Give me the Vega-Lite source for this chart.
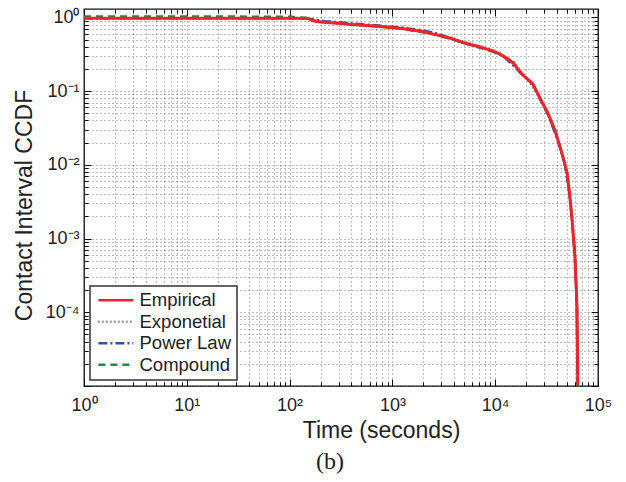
{
  "$schema": "https://vega.github.io/schema/vega-lite/v6.json",
  "width": 514,
  "height": 377,
  "autosize": {"type": "none"},
  "padding": {"left": 84, "top": 9, "right": 28, "bottom": 96},
  "background": "white",
  "config": {
    "font": "Liberation Sans",
    "view": {"stroke": "#111", "strokeWidth": 1.3},
    "axis": {
      "domain": false,
      "grid": false,
      "labelFont": "Liberation Sans",
      "labelFontSize": 18,
      "labelColor": "#222",
      "titleFont": "Liberation Sans",
      "titleFontSize": 23,
      "titleFontWeight": "normal",
      "titleColor": "#222",
      "tickColor": "#111",
      "labelOverlap": false,
      "labelFlush": false,
      "labelBound": false
    },
    "legend": {
      "orient": "bottom-left",
      "offset": 6,
      "strokeColor": "#333",
      "fillColor": "white",
      "strokeWidth": 1.5,
      "padding": 5,
      "symbolType": "M-1,0H5",
      "symbolSize": 136,
      "symbolStrokeWidth": 2.5,
      "labelFont": "Liberation Sans",
      "labelFontSize": 18.5,
      "labelColor": "#222",
      "rowPadding": 2.5,
      "labelOffset": 26,
      "labelLimit": 200
    }
  },
  "title": {
    "text": "(b)",
    "orient": "bottom",
    "anchor": "middle",
    "font": "Liberation Serif",
    "fontSize": 24,
    "fontWeight": "normal",
    "color": "#222",
    "offset": 8,
    "dx": -11
  },
  "data": {
    "values": [
      {"series": "Exponetial", "t": 1, "p": 0.976},
      {"series": "Exponetial", "t": 10, "p": 0.975},
      {"series": "Exponetial", "t": 100, "p": 0.973},
      {"series": "Exponetial", "t": 150, "p": 0.968},
      {"series": "Exponetial", "t": 170, "p": 0.9},
      {"series": "Exponetial", "t": 300, "p": 0.832},
      {"series": "Exponetial", "t": 700, "p": 0.762},
      {"series": "Exponetial", "t": 1200, "p": 0.712},
      {"series": "Exponetial", "t": 2700, "p": 0.59},
      {"series": "Exponetial", "t": 3700, "p": 0.535},
      {"series": "Exponetial", "t": 5000, "p": 0.465},
      {"series": "Exponetial", "t": 7000, "p": 0.41},
      {"series": "Exponetial", "t": 11000, "p": 0.33},
      {"series": "Exponetial", "t": 15000, "p": 0.25},
      {"series": "Exponetial", "t": 20000, "p": 0.155},
      {"series": "Exponetial", "t": 27400, "p": 0.08},
      {"series": "Exponetial", "t": 38000, "p": 0.031},
      {"series": "Exponetial", "t": 47000, "p": 0.011},
      {"series": "Exponetial", "t": 53000, "p": 0.004},
      {"series": "Exponetial", "t": 59700, "p": 0.00057},
      {"series": "Exponetial", "t": 62400, "p": 0.00012},
      {"series": "Exponetial", "t": 63800, "p": 0.000001},
      {"series": "Power Law", "t": 1, "p": 0.975},
      {"series": "Power Law", "t": 10, "p": 0.975},
      {"series": "Power Law", "t": 100, "p": 0.975},
      {"series": "Power Law", "t": 140, "p": 0.975},
      {"series": "Power Law", "t": 180, "p": 0.93},
      {"series": "Power Law", "t": 220, "p": 0.89},
      {"series": "Power Law", "t": 300, "p": 0.86},
      {"series": "Power Law", "t": 500, "p": 0.81},
      {"series": "Power Law", "t": 800, "p": 0.77},
      {"series": "Power Law", "t": 1200, "p": 0.73},
      {"series": "Power Law", "t": 2000, "p": 0.665},
      {"series": "Power Law", "t": 2800, "p": 0.6},
      {"series": "Power Law", "t": 3500, "p": 0.53},
      {"series": "Power Law", "t": 5000, "p": 0.45},
      {"series": "Power Law", "t": 8000, "p": 0.38},
      {"series": "Power Law", "t": 12000, "p": 0.3},
      {"series": "Power Law", "t": 17500, "p": 0.18},
      {"series": "Power Law", "t": 23300, "p": 0.125},
      {"series": "Power Law", "t": 32000, "p": 0.053},
      {"series": "Power Law", "t": 43000, "p": 0.017},
      {"series": "Power Law", "t": 50000, "p": 0.0078},
      {"series": "Power Law", "t": 56000, "p": 0.0018},
      {"series": "Power Law", "t": 59700, "p": 0.00057},
      {"series": "Power Law", "t": 62400, "p": 0.00012},
      {"series": "Power Law", "t": 63800, "p": 0.000001},
      {"series": "Compound", "t": 1, "p": 1.03},
      {"series": "Compound", "t": 10, "p": 1.03},
      {"series": "Compound", "t": 100, "p": 1.02},
      {"series": "Compound", "t": 150, "p": 0.985},
      {"series": "Compound", "t": 170, "p": 0.9},
      {"series": "Compound", "t": 300, "p": 0.83},
      {"series": "Compound", "t": 1200, "p": 0.71},
      {"series": "Compound", "t": 2700, "p": 0.58},
      {"series": "Compound", "t": 5000, "p": 0.45},
      {"series": "Compound", "t": 11000, "p": 0.32},
      {"series": "Compound", "t": 15000, "p": 0.24},
      {"series": "Compound", "t": 17500, "p": 0.18},
      {"series": "Compound", "t": 23300, "p": 0.125},
      {"series": "Compound", "t": 27400, "p": 0.078},
      {"series": "Compound", "t": 38000, "p": 0.03},
      {"series": "Compound", "t": 47000, "p": 0.011},
      {"series": "Compound", "t": 53000, "p": 0.004},
      {"series": "Compound", "t": 59700, "p": 0.00057},
      {"series": "Compound", "t": 62400, "p": 0.00012},
      {"series": "Compound", "t": 63800, "p": 0.000001},
      {"series": "Empirical", "t": 1, "p": 0.975},
      {"series": "Empirical", "t": 3, "p": 0.975},
      {"series": "Empirical", "t": 10, "p": 0.974},
      {"series": "Empirical", "t": 30, "p": 0.973},
      {"series": "Empirical", "t": 100, "p": 0.972},
      {"series": "Empirical", "t": 150, "p": 0.968},
      {"series": "Empirical", "t": 170, "p": 0.9},
      {"series": "Empirical", "t": 200, "p": 0.865},
      {"series": "Empirical", "t": 300, "p": 0.83},
      {"series": "Empirical", "t": 400, "p": 0.8},
      {"series": "Empirical", "t": 700, "p": 0.76},
      {"series": "Empirical", "t": 1200, "p": 0.71},
      {"series": "Empirical", "t": 2000, "p": 0.64},
      {"series": "Empirical", "t": 2700, "p": 0.58},
      {"series": "Empirical", "t": 3200, "p": 0.545},
      {"series": "Empirical", "t": 3700, "p": 0.52},
      {"series": "Empirical", "t": 5000, "p": 0.45},
      {"series": "Empirical", "t": 7000, "p": 0.4},
      {"series": "Empirical", "t": 9000, "p": 0.36},
      {"series": "Empirical", "t": 11000, "p": 0.32},
      {"series": "Empirical", "t": 13000, "p": 0.28},
      {"series": "Empirical", "t": 15000, "p": 0.24},
      {"series": "Empirical", "t": 17500, "p": 0.18},
      {"series": "Empirical", "t": 20000, "p": 0.15},
      {"series": "Empirical", "t": 23300, "p": 0.125},
      {"series": "Empirical", "t": 27400, "p": 0.078},
      {"series": "Empirical", "t": 32000, "p": 0.053},
      {"series": "Empirical", "t": 38000, "p": 0.03},
      {"series": "Empirical", "t": 43000, "p": 0.017},
      {"series": "Empirical", "t": 47000, "p": 0.011},
      {"series": "Empirical", "t": 50000, "p": 0.0078},
      {"series": "Empirical", "t": 53000, "p": 0.004},
      {"series": "Empirical", "t": 56000, "p": 0.0018},
      {"series": "Empirical", "t": 59700, "p": 0.00057},
      {"series": "Empirical", "t": 62400, "p": 0.00012},
      {"series": "Empirical", "t": 63500, "p": 0.00002},
      {"series": "Empirical", "t": 63800, "p": 0.000001}
    ]
  },
  "layer": [
    {
      "transform": [{"filter": "datum.series != 'Empirical'"}],
      "mark": {"type": "line", "strokeWidth": 2.5, "clip": true},
      "encoding": {
        "x": {
          "field": "t", "type": "quantitative",
          "scale": {"type": "log", "domain": [1, 100000], "nice": false},
          "axis": {
            "orient": "bottom",
            "values": [1,2,3,4,5,6,7,8,9,10,20,30,40,50,60,70,80,90,100,200,300,400,500,600,700,800,900,1000,2000,3000,4000,5000,6000,7000,8000,9000,10000,20000,30000,40000,50000,60000,70000,80000,90000,100000],
            "grid": true,
            "gridColor": "#000",
            "gridOpacity": 0.5,
            "gridDash": [1, 3],
            "gridWidth": 1,
            "tickSize": {"condition": {"test": "abs(log(datum.value)/LN10 - round(log(datum.value)/LN10)) < 0.001", "value": -7}, "value": -4},
            "labelPadding": 17,
            "labelExpr": "abs(log(datum.value)/LN10 - round(log(datum.value)/LN10)) < 0.001 ? '10' + replace(replace(replace(replace(replace(replace(replace('' + round(log(datum.value)/LN10), '-', '⁻'), '0', '⁰'), '1', '¹'), '2', '²'), '3', '³'), '4', '⁴'), '5', '⁵') : ''",
            "title": "Time (seconds)",
            "titleX": 297,
            "titleY": 51,
            "titleBaseline": "alphabetic"
          }
        },
        "y": {
          "field": "p", "type": "quantitative",
          "scale": {"type": "log", "domain": [0.00001, 1.3], "nice": false},
          "axis": {
            "orient": "left",
            "values": [0.00001,0.00002,0.00003,0.00004,0.00005,0.00006,0.00007,0.00008,0.00009,0.0001,0.0002,0.0003,0.0004,0.0005,0.0006,0.0007,0.0008,0.0009,0.001,0.002,0.003,0.004,0.005,0.006,0.007,0.008,0.009,0.01,0.02,0.03,0.04,0.05,0.06,0.07,0.08,0.09,0.1,0.2,0.3,0.4,0.5,0.6,0.7,0.8,0.9,1],
            "grid": true,
            "gridColor": "#000",
            "gridOpacity": 0.5,
            "gridDash": [1, 3],
            "gridWidth": 1,
            "tickSize": {"condition": {"test": "abs(log(datum.value)/LN10 - round(log(datum.value)/LN10)) < 0.001", "value": -7}, "value": -4},
            "labelPadding": 12,
            "labelExpr": "datum.value > 0.000015 && abs(log(datum.value)/LN10 - round(log(datum.value)/LN10)) < 0.001 ? '10' + replace(replace(replace(replace(replace(replace(replace('' + round(log(datum.value)/LN10), '-', '⁻'), '0', '⁰'), '1', '¹'), '2', '²'), '3', '³'), '4', '⁴'), '5', '⁵') : ''",
            "title": "Contact Interval CCDF",
            "titleX": -53,
            "titleY": 196,
            "titleAngle": -90,
            "titleAlign": "center",
            "titleBaseline": "alphabetic"
          }
        },
        "color": {
          "field": "series", "type": "nominal",
          "scale": {"domain": ["Empirical", "Exponetial", "Power Law", "Compound"], "range": ["#f0232b", "#555555", "#34509f", "#1b8a45"]},
          "legend": {"title": null}
        },
        "strokeDash": {
          "field": "series", "type": "nominal",
          "scale": {"domain": ["Empirical", "Exponetial", "Power Law", "Compound"], "range": [[1, 0], [1, 3], [9, 3, 2, 3], [7, 5]]},
          "legend": {"title": null}
        }
      }
    },
    {
      "transform": [{"filter": "datum.series == 'Empirical'"}],
      "mark": {"type": "line", "strokeWidth": 3, "clip": true},
      "encoding": {
        "x": {
          "field": "t", "type": "quantitative",
          "scale": {"type": "log", "domain": [1, 100000], "nice": false},
          "axis": {
            "orient": "top",
            "values": [1,2,3,4,5,6,7,8,9,10,20,30,40,50,60,70,80,90,100,200,300,400,500,600,700,800,900,1000,2000,3000,4000,5000,6000,7000,8000,9000,10000,20000,30000,40000,50000,60000,70000,80000,90000,100000],
            "labels": false,
            "title": null,
            "tickSize": {"condition": {"test": "abs(log(datum.value)/LN10 - round(log(datum.value)/LN10)) < 0.001", "value": -7}, "value": -4}
          }
        },
        "y": {
          "field": "p", "type": "quantitative",
          "scale": {"type": "log", "domain": [0.00001, 1.3], "nice": false},
          "axis": {
            "orient": "right",
            "values": [0.00001,0.00002,0.00003,0.00004,0.00005,0.00006,0.00007,0.00008,0.00009,0.0001,0.0002,0.0003,0.0004,0.0005,0.0006,0.0007,0.0008,0.0009,0.001,0.002,0.003,0.004,0.005,0.006,0.007,0.008,0.009,0.01,0.02,0.03,0.04,0.05,0.06,0.07,0.08,0.09,0.1,0.2,0.3,0.4,0.5,0.6,0.7,0.8,0.9,1],
            "labels": false,
            "title": null,
            "tickSize": {"condition": {"test": "abs(log(datum.value)/LN10 - round(log(datum.value)/LN10)) < 0.001", "value": -7}, "value": -4}
          }
        },
        "color": {
          "field": "series", "type": "nominal",
          "scale": {"domain": ["Empirical", "Exponetial", "Power Law", "Compound"], "range": ["#f0232b", "#555555", "#34509f", "#1b8a45"]},
          "legend": {"title": null}
        },
        "strokeDash": {
          "field": "series", "type": "nominal",
          "scale": {"domain": ["Empirical", "Exponetial", "Power Law", "Compound"], "range": [[1, 0], [1, 3], [9, 3, 2, 3], [7, 5]]},
          "legend": {"title": null}
        }
      }
    }
  ],
  "resolve": {"axis": {"x": "independent", "y": "independent"}}
}
